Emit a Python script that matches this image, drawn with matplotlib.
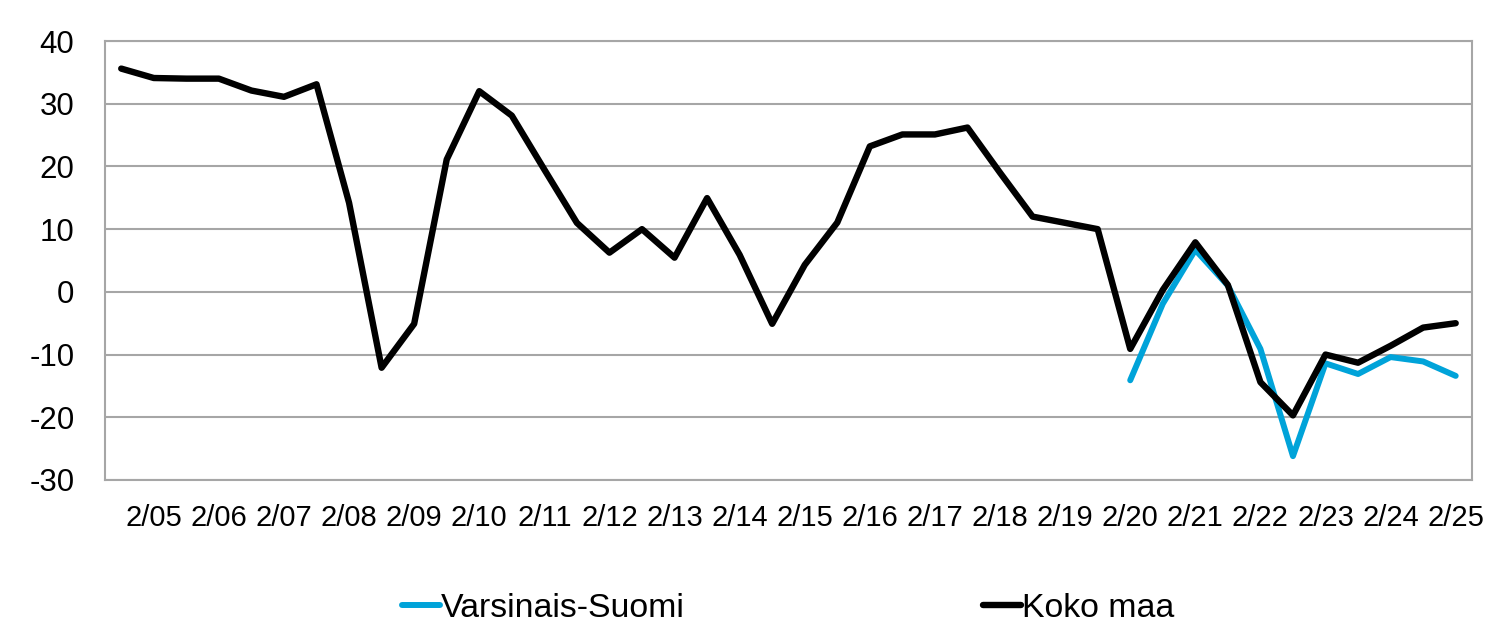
import numpy as np
import matplotlib.pyplot as plt

plt.rcParams['font.family'] = ['Liberation Sans', 'DejaVu Sans']
plt.rcParams['axes.unicode_minus'] = False

# half-yearly observations, 8/04 ... 2/25
koko_maa = [35.6, 34.1, 34, 34, 32.1, 31.1, 33.1, 14.2, -12.1, -5.1,
            21.1, 32, 28.1, 19.5, 11, 6.25, 10, 5.45, 14.95, 5.9,
            -5.1, 4.3, 11.05, 23.2, 25.1, 25.1, 26.2, 19, 12, 11,
            10, -9.1, 0.3, 7.9, 1.1, -14.4, -19.7, -10, -11.3, -8.6,
            -5.7, -5.0]
varsinais_suomi = [np.nan] * 31 + [-14.1, -1.9, 6.7, 1.0, -9.1, -26.2,
                                   -11.4, -13.1, -10.4, -11.1, -13.4]
tick_labels = ['2/05', '2/06', '2/07', '2/08', '2/09', '2/10', '2/11',
               '2/12', '2/13', '2/14', '2/15', '2/16', '2/17', '2/18',
               '2/19', '2/20', '2/21', '2/22', '2/23', '2/24', '2/25']

x = np.arange(len(koko_maa))

fig = plt.figure(figsize=(14.95, 6.28), dpi=100)
ax = fig.add_axes([0.0702, 0.2357, 0.9144, 0.699])

ax.plot(x, varsinais_suomi, color='#00a3d9', lw=4.3,
        solid_capstyle='round', label='Varsinais-Suomi')
ax.plot(x, koko_maa, color='black', lw=4.6,
        solid_capstyle='round', label='Koko maa')

ax.set_xlim(-0.5, len(koko_maa) - 0.5)
ax.set_ylim(-30, 40)
ax.set_yticks(range(-30, 41, 10))
ax.set_xticks(x[1::2])
ax.set_xticklabels(tick_labels)
ax.tick_params(axis='both', length=0)
ax.tick_params(axis='y', pad=22, labelsize=22.5)
ax.tick_params(axis='x', pad=17, labelsize=21)
ax.grid(axis='y', color='#a6a6a6', lw=1.5)
ax.set_axisbelow(True)
for s in ax.spines.values():
    s.set_color('#a6a6a6')
    s.set_linewidth(1.5)

fig.legend(loc='center', bbox_to_anchor=(0.5274, 0.031), ncol=2,
           frameon=False, fontsize=24.4, handlelength=1.1,
           handletextpad=0.05, columnspacing=8.8)

fig.savefig('out.png', dpi=100)
